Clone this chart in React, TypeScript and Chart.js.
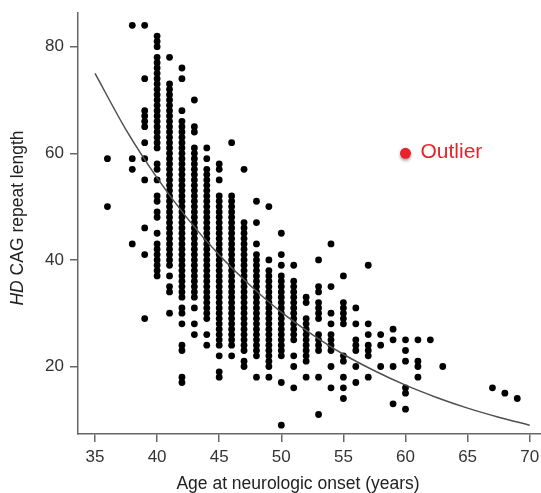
import React, { useEffect, useRef } from "react";
import { Chart, registerables } from "chart.js";

Chart.register(...registerables);

const xTicks = [35, 40, 45, 50, 55, 60, 65, 70];
const yTicks = [20, 40, 60, 80];

// Onset ages (x) and the CAG lengths plotted at each age; [a, b] = every integer value a..b
const onsetAges = [36, 38, 39, 40, 41, 42, 43, 44, 45, 46, 47, 48, 49, 50, 51, 52, 53, 54, 55, 56, 57, 58, 59, 60, 61, 62, 63, 67, 68, 69];
const cagValues: (number | [number, number])[][] = [
  [59, 50],
  [84, 59, 57, 43],
  [84, 74, [65, 68], 62, 59, 55, 46, 41, 29],
  [82, 81, 80, [61, 78], 58, 57, 55, 52, 51, 49, 48, 45, [37, 43]],
  [78, [39, 73], 37, 35, 34, 30],
  [76, 74, 68, [33, 66], 31, 30, 28, 24, 23, 18, 17],
  [70, 65, 64, [33, 61], 31, 28, 26],
  [61, 59, 57, [29, 56], 26, 24],
  [58, 57, 55, [24, 52], 22, 19, 18],
  [62, [24, 52], 22],
  [57, [23, 47], 21, 20],
  [51, 47, 43, [22, 41], 18],
  [50, 40, 38, [20, 37], 18],
  [45, 41, 39, [22, 37], 17, 9],
  [39, [25, 36], 22, 20, 16],
  [33, 32, [21, 29], 18],
  [40, 35, 34, [29, 32], [23, 26], 18, 11],
  [43, 35, 30, 28, [23, 26], 20, 16],
  [37, [28, 32], 22, 21, 18, 16, 14],
  [31, 28, [23, 25], 20, 17],
  [39, 28, 26, 24, 23, 22, 18],
  [26, 24, 20],
  [27, 25, 20, 13],
  [25, 23, 21, 16, 15, 12],
  [25, 21, 20, 18],
  [25],
  [20],
  [16],
  [15],
  [14],
];

// Fitted curve
const fitAges = [35, 37.5, 40, 42.5, 45, 47.5, 50, 52.5, 55, 57.5, 60, 62.5, 65, 67.5, 70];
const fitCag = [75, 64.4, 55.4, 47.6, 40.9, 35.2, 30.2, 26.0, 22.3, 19.2, 16.5, 14.2, 12.2, 10.5, 9.0];

const outlierAge = [60];
const outlierCag = [60];
const outlierLabel = "Outlier";

const xTitle = "Age at neurologic onset (years)";
const yTitleItalic = "HD";
const yTitleRest = " CAG repeat length";

const RED = "#e8232b";
const FONT = "'Liberation Sans', Arial, Helvetica, sans-serif";

function buildPoints() {
  const pts: { x: number; y: number }[] = [];
  onsetAges.forEach((age, i) => {
    cagValues[i].forEach((v) => {
      if (Array.isArray(v)) {
        for (let c = v[0]; c <= v[1]; c++) pts.push({ x: age, y: c });
      } else {
        pts.push({ x: age, y: v });
      }
    });
  });
  return pts;
}

const textPlugin = {
  id: "customText",
  beforeDatasetDraw(chart: any, args: any) {
    if (args.index === 1) {
      const ctx = chart.ctx as CanvasRenderingContext2D;
      ctx.save();
      ctx.shadowColor = "rgba(0,0,0,0.35)";
      ctx.shadowBlur = 3;
      ctx.shadowOffsetX = 0;
      ctx.shadowOffsetY = 2;
    }
  },
  afterDatasetDraw(chart: any, args: any) {
    if (args.index === 1) chart.ctx.restore();
  },
  afterDraw(chart: any) {
    const ctx = chart.ctx as CanvasRenderingContext2D;
    const xs = chart.scales.x;
    const ys = chart.scales.y;
    ctx.save();
    // outlier label
    ctx.fillStyle = RED;
    ctx.font = `21px ${FONT}`;
    ctx.textAlign = "left";
    ctx.textBaseline = "middle";
    const px = xs.getPixelForValue(outlierAge[0]);
    const py = ys.getPixelForValue(outlierCag[0]);
    ctx.fillText(outlierLabel, px + 15, py - 1.5);

    // x title
    ctx.fillStyle = "#222";
    ctx.font = `17.5px ${FONT}`;
    ctx.textAlign = "center";
    ctx.textBaseline = "middle";
    ctx.fillText(xTitle, 298, 484.5);

    // y title (rotated, with italic HD)
    ctx.translate(18.5, 218);
    ctx.rotate(-Math.PI / 2);
    ctx.font = `italic 17.5px ${FONT}`;
    const w1 = ctx.measureText(yTitleItalic).width;
    ctx.font = `17.5px ${FONT}`;
    const w2 = ctx.measureText(yTitleRest).width;
    const start = -(w1 + w2) / 2;
    ctx.textAlign = "left";
    ctx.font = `italic 17.5px ${FONT}`;
    ctx.fillText(yTitleItalic, start, 0);
    ctx.font = `17.5px ${FONT}`;
    ctx.fillText(yTitleRest, start + w1, 0);
    ctx.restore();
  },
};

export default function App() {
  const ref = useRef<HTMLCanvasElement | null>(null);

  useEffect(() => {
    if (!ref.current) return;
    const chart = new Chart(ref.current, {
      type: "scatter",
      data: {
        datasets: [
          {
            type: "line",
            data: fitAges.map((x, i) => ({ x, y: fitCag[i] })),
            borderColor: "#505050",
            borderWidth: 1.5,
            pointRadius: 0,
            tension: 0.4,
            cubicInterpolationMode: "monotone",
            fill: false,
            order: 0,
          } as any,
          {
            data: outlierAge.map((x, i) => ({ x, y: outlierCag[i] })),
            backgroundColor: RED,
            borderWidth: 0,
            pointRadius: 5.5,
            order: 0,
          },
          {
            data: buildPoints(),
            backgroundColor: "#000",
            borderWidth: 0,
            pointRadius: 3.4,
            order: 1,
          },
        ],
      },
      options: {
        animation: false,
        responsive: true,
        maintainAspectRatio: false,
        layout: { autoPadding: false, padding: { top: 13, left: 0, right: 0, bottom: 0 } },
        plugins: {
          legend: { display: false },
          tooltip: { enabled: false },
          title: { display: false },
        },
        scales: {
          x: {
            type: "linear",
            min: 33.63,
            max: 70.91,
            afterFit: (s: any) => {
              s.height = 59;
              s.paddingLeft = 0;
              s.paddingRight = 0;
            },
            afterBuildTicks: (s: any) => {
              s.ticks = xTicks.map((v) => ({ value: v }));
            },
            grid: {
              drawOnChartArea: false,
              drawTicks: true,
              tickLength: 8,
              color: "#666",
              lineWidth: 1.5,
            },
            border: { display: true, color: "#666", width: 1.5 },
            ticks: {
              color: "#333",
              font: { family: FONT, size: 17 },
              padding: 5,
              maxRotation: 0,
              autoSkip: false,
            },
          },
          y: {
            type: "linear",
            min: 7.34,
            max: 86.32,
            afterFit: (s: any) => {
              s.width = 78;
              s.paddingTop = 0;
              s.paddingBottom = 0;
            },
            afterBuildTicks: (s: any) => {
              s.ticks = yTicks.map((v) => ({ value: v }));
            },
            grid: {
              drawOnChartArea: false,
              drawTicks: true,
              tickLength: 8,
              color: "#666",
              lineWidth: 1.5,
            },
            border: { display: true, color: "#666", width: 1.5 },
            ticks: {
              color: "#333",
              font: { family: FONT, size: 17 },
              padding: 6,
              autoSkip: false,
            },
          },
        },
      },
      plugins: [textPlugin],
    });
    return () => chart.destroy();
  }, []);

  return (
    <div style={{ position: "fixed", left: 0, top: 0, width: 541, height: 493, background: "#fff" }}>
      <canvas ref={ref} />
    </div>
  );
}
